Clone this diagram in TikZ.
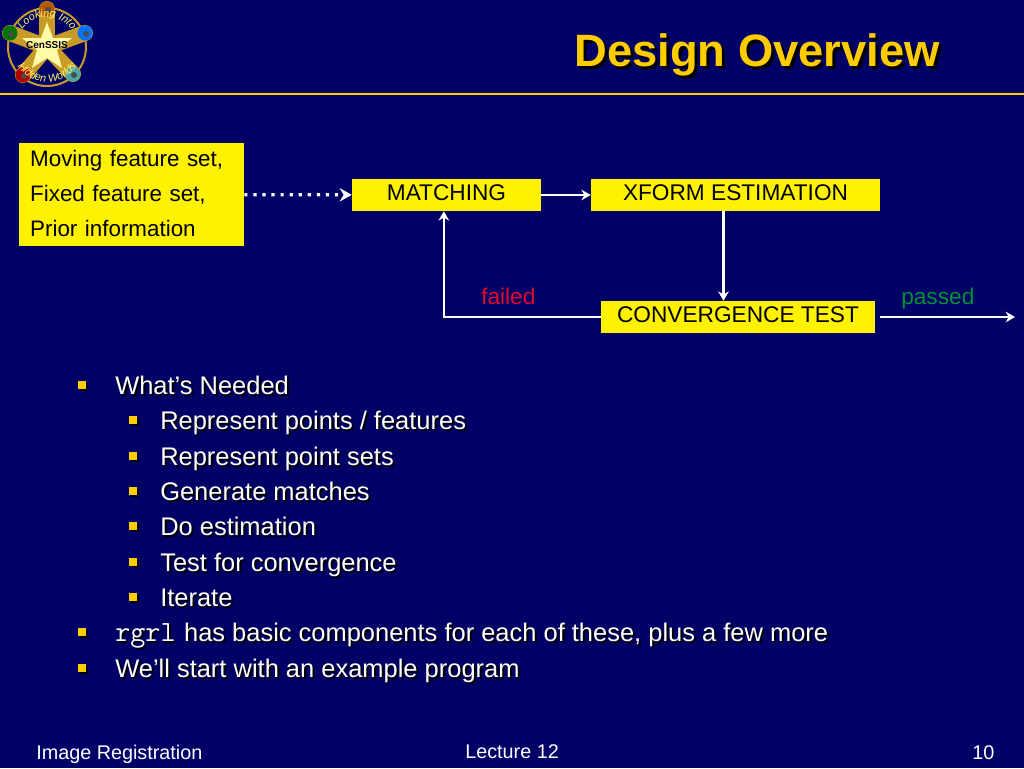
\documentclass[tikz,border=0pt]{standalone}
\usepackage{fontspec}
\setmainfont{Liberation Sans}
\usetikzlibrary{arrows.meta}
\usetikzlibrary{decorations.text}
\definecolor{slideblue}{RGB}{0,0,102}
\definecolor{slidegold}{RGB}{255,204,0}
\definecolor{armgold}{RGB}{200,155,40}
\definecolor{failedred}{RGB}{224,10,40}
\definecolor{passedgreen}{RGB}{0,145,50}
\tikzset{
    x=0.75pt, y=-0.75pt,
    flowbox/.style={fill=yellow, text=black, font=\fontsize{17}{20}\selectfont, inner sep=0pt, minimum height=24pt, text height=12pt, text depth=3.6pt},
    flowline/.style={white, line width=2pt, -{Stealth[length=7pt,width=8pt]}},
    flowlabel/.style={font=\fontsize{17}{20}\selectfont, anchor=base west},
    itemtext/.style={font=\fontsize{19.1}{22}\selectfont, anchor=base west, inner sep=0pt, text=white},
    itemshadow/.style={itemtext, text=black},
    footertext/.style={font=\fontsize{14.85}{18}\selectfont, anchor=base west, inner sep=0pt, text=white},
    logoarm/.style={armgold, line width=12pt, line cap=round},
    logotext/.style={decorate, decoration={text along path, text align=center, text={|\rmfamily\itshape\fontsize{8}{9}\selectfont\color{yellow!60!white}|#1}}},
}
\newcommand{\rgrlname}{{\ttfamily\fontsize{22}{22}\selectfont rgrl}\hspace{1pt}}
\begin{document}
\begin{tikzpicture}
    %BACKGROUND
    \fill[slideblue] (0,0) rectangle (1024,768);
    \useasboundingbox (0,0) rectangle (1024,768);
    \fill[slidegold] (0,92.5) rectangle (1024,94.5);
    %LOGO
    \draw[armgold, line width=1.5pt] (47,47) circle (39);
    \foreach \ax/\ay/\ic in {47/9/orange!70!black, 85/33/blue!55!cyan, 73/74/teal!70!white, 23/75/red!70!black, 10/33/green!45!black}{
        \draw[logoarm] (47,47) -- (\ax,\ay);
        \fill[\ic] (\ax,\ay) circle (7.5);
        \fill[black!70] (\ax+1,\ay+1) circle (3);
    }
    \fill[yellow!35!white] (47,22) -- (53,38) -- (72,38) -- (57,50) -- (62,68) -- (47,58) -- (32,68) -- (37,50) -- (22,38) -- (41,38) -- cycle;
    \path[logotext={Looking Into}] (47,47) ++(190:30) arc (190:350:30);
    \path[logotext={Hidden Worlds}] (47,47) ++(170:35) arc (170:10:35);
    \node[font=\bfseries\fontsize{7.5}{8}\selectfont, inner sep=0pt] (logoname) at (47,45) {CenSSIS};
    %TITLE
    \node[font=\bfseries\fontsize{34}{38}\selectfont, anchor=base east, inner sep=0pt, text=black] (titleshadow) at (943,69) {Design Overview};
    \node[font=\bfseries\fontsize{34}{38}\selectfont, anchor=base east, inner sep=0pt, text=slidegold] (title) at (940,66) {Design Overview};
    %BOXES
    \node[fill=yellow, minimum width=168.75pt, minimum height=77.25pt] (input) at (131.5,194.5) {};
    \node[text=black, font=\fontsize{16.8}{26.25}\selectfont, align=left, inner sep=0pt, text width=152pt] (inputtext) at (131.5,193) {Moving feature set,\\Fixed feature set,\\Prior information};
    \node[flowbox, minimum width=141.75pt] (matching) at (446.5,195) {MATCHING};
    \node[flowbox, minimum width=216.75pt] (xform) at (735.5,195) {XFORM ESTIMATION};
    \node[flowbox, minimum width=205.5pt] (convergence) at (738,317) {CONVERGENCE TEST};
    %ARROWS
    \coordinate (exit) at (1015,317);
    \draw[flowline, line width=2.4pt, dash pattern=on 2.4pt off 4.4pt, -{Stealth[length=9pt,width=10pt]}] (input) -- (matching);
    \draw[flowline] (matching) -- (xform);
    \draw[flowline] ([xshift=-9pt]xform.south) -- ([xshift=-9pt]xform.south |- convergence.north);
    \draw[flowline] (convergence.west) -| ([xshift=-2pt]matching.south);
    \draw[flowline] ([xshift=3.75pt]convergence.east) -- (exit);
    \node[flowlabel, text=failedred, inner sep=0pt] (failed) at (481,304) {failed};
    \node[flowlabel, text=passedgreen, inner sep=0pt] (passed) at (901,304) {passed};
    %BULLETS
    \foreach \i/\bx/\tx/\by/\txt in {1/78/115/394/{What’s Needed},
        2/129/160/429/{Represent points / features},
        3/129/160/465/{Represent point sets},
        4/129/160/500/{Generate matches},
        5/129/160/535/{Do estimation},
        6/129/160/571/{Test for convergence},
        7/129/160/606/{Iterate},
        8/78/115/641/{\rgrlname{} has basic components for each of these, plus a few more},
        9/78/115/677/{We’ll start with an example program}}{
        \fill[black] (\bx+2,\by-11) rectangle (\bx+10,\by-3);
        \fill[slidegold] (\bx,\by-13) rectangle (\bx+8,\by-5);
        \node[itemshadow] (shadow\i) at (\tx+2,\by+2) {\txt};
        \node[itemtext] (item\i) at (\tx,\by) {\txt};
    }
    %FOOTER
    \node[footertext] (course) at (36,759) {Image Registration};
    \node[footertext] (lecture) at (465,758) {Lecture 12};
    \node[footertext] (page) at (972,759) {10};
\end{tikzpicture}
\end{document}
